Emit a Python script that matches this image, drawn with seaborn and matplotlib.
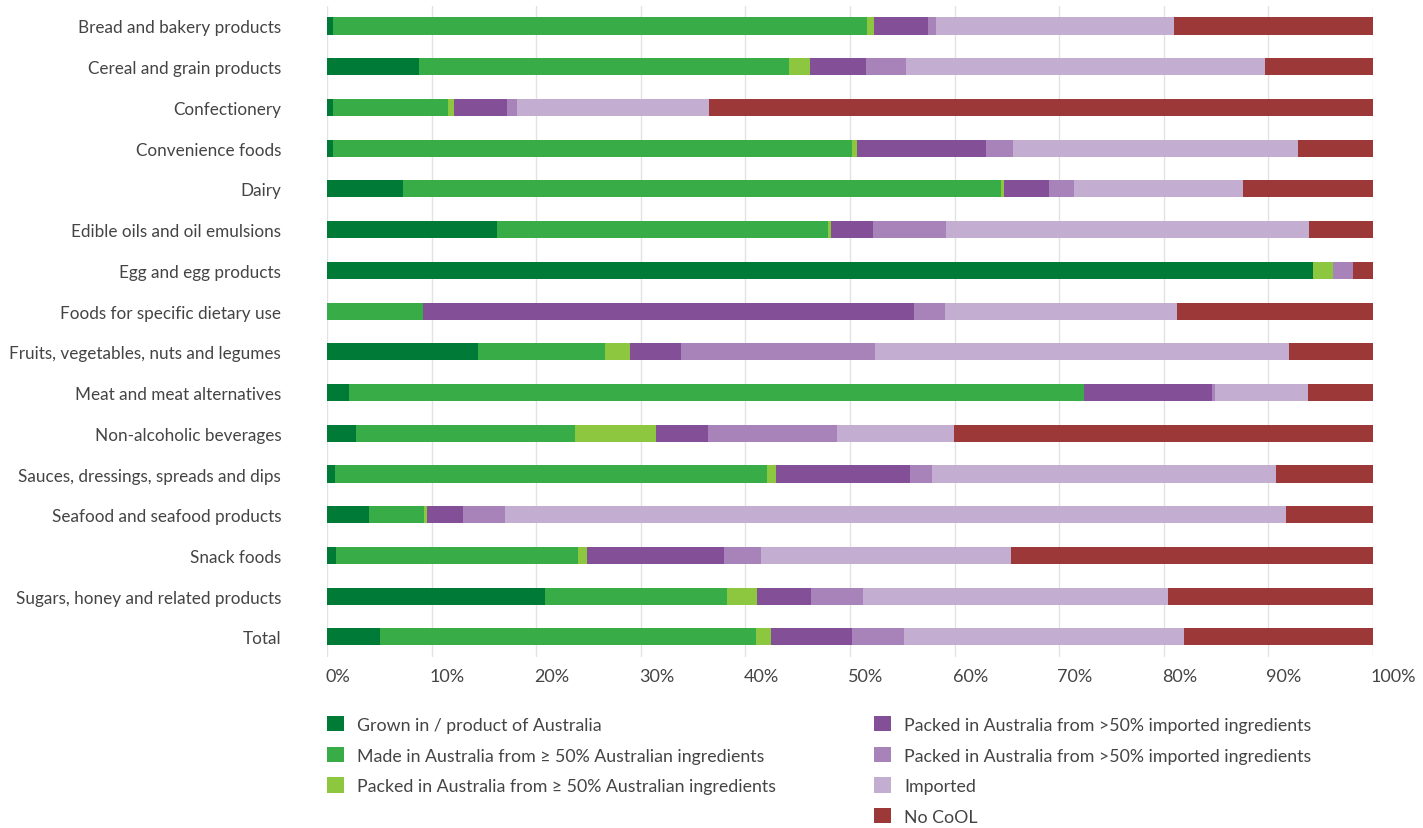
import matplotlib
matplotlib.use("Agg")
import matplotlib.pyplot as plt
from matplotlib.patches import Patch
from matplotlib.transforms import ScaledTranslation
import numpy as np
import pandas as pd
import seaborn as sns

categories = [
    "Bread and bakery products",
    "Cereal and grain products",
    "Confectionery",
    "Convenience foods",
    "Dairy",
    "Edible oils and oil emulsions",
    "Egg and egg products",
    "Foods for specific dietary use",
    "Fruits, vegetables, nuts and legumes",
    "Meat and meat alternatives",
    "Non-alcoholic beverages",
    "Sauces, dressings, spreads and dips",
    "Seafood and seafood products",
    "Snack foods",
    "Sugars, honey and related products",
    "Total",
]

series_names = [
    "Grown in / product of Australia",
    "Made in Australia from \u2265 50% Australian ingredients",
    "Packed in Australia from \u2265 50% Australian ingredients",
    "Packed in Australia from >50% imported ingredients",
    "Packed in Australia from >50% imported ingredients ",
    "Imported",
    "No CoOL",
]

grown = [0.6, 8.8, 0.6, 0.6, 7.3, 16.3, 94.3, 0.0, 14.4, 2.1, 2.8, 0.8, 4.0, 0.9, 20.8, 5.1]
made = [51.0, 35.4, 11.0, 49.6, 57.1, 31.6, 0.0, 9.2, 12.2, 70.3, 20.9, 41.3, 5.3, 23.1, 17.4, 35.9]
packed_aus = [0.7, 2.0, 0.5, 0.5, 0.3, 0.3, 1.9, 0.0, 2.4, 0.0, 7.8, 0.8, 0.3, 0.9, 2.9, 1.4]
packed_imp1 = [5.2, 5.3, 5.1, 12.3, 4.3, 4.0, 0.0, 46.9, 4.8, 12.2, 4.9, 12.8, 3.4, 13.1, 5.2, 7.8]
packed_imp2 = [0.7, 3.9, 1.0, 2.6, 2.4, 7.0, 1.9, 3.0, 18.6, 0.3, 12.4, 2.1, 4.0, 3.5, 4.9, 5.0]
imported = [22.8, 34.3, 18.3, 27.2, 16.2, 34.7, 0.0, 22.2, 39.6, 8.9, 11.1, 32.9, 74.7, 23.9, 29.2, 26.7]
no_cool = [19.0, 10.3, 63.5, 7.2, 12.4, 6.1, 1.9, 18.7, 8.0, 6.2, 40.1, 9.3, 8.3, 34.6, 19.6, 18.1]

x_ticks = list(range(0, 101, 10))
x_tick_labels = [f"{v}%" for v in x_ticks]

colors = ["#007A37", "#37AC47", "#8DC63F", "#835098", "#A783B9", "#C3AED1", "#9C3838"]

series = [grown, made, packed_aus, packed_imp1, packed_imp2, imported, no_cool]
df = pd.DataFrame({name: vals for name, vals in zip(series_names, series)})
df["category"] = categories
cum = df[series_names].cumsum(axis=1)

sns.set_theme(style="white")
plt.rcParams["font.family"] = ["Lato", "DejaVu Sans"]

fig = plt.figure(figsize=(14.23, 8.29), dpi=100)
ax = fig.add_axes([327 / 1423, 1 - 658.3 / 829, (1373 - 327) / 1423, (658.3 - 6.6) / 829])

for name, col in reversed(list(zip(series_names, colors))):
    sns.barplot(x=cum[name], y=df["category"], orient="h", color=col,
                width=0.42, linewidth=0, saturation=1, ax=ax, zorder=3)

ax.set_xlim(0, 100)
ax.set_ylim(15.5, -0.5)
ax.set_xticks(x_ticks)
ax.set_xticklabels(x_tick_labels)
ax.xaxis.grid(True, color="#E2E2E2", linewidth=1, zorder=0)
ax.yaxis.grid(False)
ax.set_axisbelow(True)
for s in ax.spines.values():
    s.set_visible(False)
ax.tick_params(axis="both", length=0, colors="#444444")
ax.tick_params(axis="y", pad=33, labelsize=12.3)
ax.tick_params(axis="x", pad=8, labelsize=13)
offset = ScaledTranslation(-2 / 100, 0, fig.dpi_scale_trans)
for lab in ax.get_xticklabels():
    lab.set_horizontalalignment("left")
    lab.set_transform(lab.get_transform() + offset)
ax.set_xlabel("")
ax.set_ylabel("")

handles = [Patch(facecolor=c, edgecolor="none") for c in colors]
common = dict(loc="upper left", frameon=False, fontsize=12.8, labelcolor="#444444",
              handlelength=0.95, handleheight=0.95, handletextpad=0.75,
              labelspacing=0.78, borderaxespad=0)
leg1 = fig.legend(handles[:3], series_names[:3],
                  bbox_to_anchor=(320 / 1423, 1 - 710 / 829), **common)
leg2 = fig.legend(handles[3:], series_names[3:],
                  bbox_to_anchor=(867 / 1423, 1 - 710 / 829), **common)

fig.savefig("out.png", dpi=100)
